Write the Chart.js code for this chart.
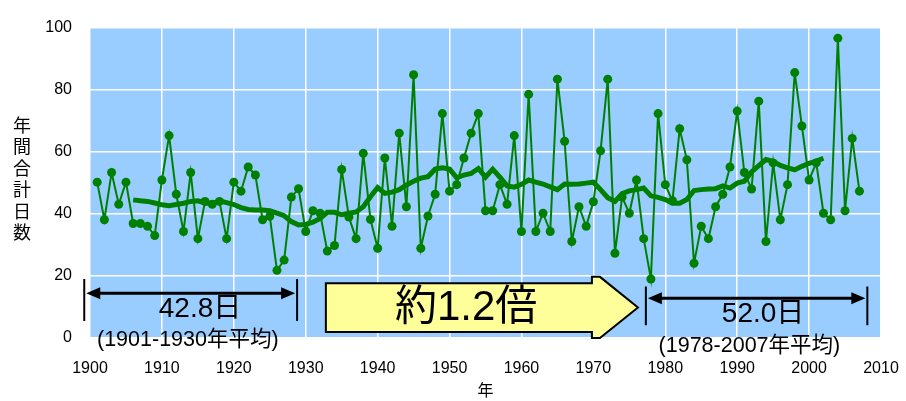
<!DOCTYPE html>
<html>
<head>
<meta charset="utf-8">
<script src="https://cdn.jsdelivr.net/npm/chart.js@4"></script>
<style>
  html, body { margin: 0; padding: 0; background: #fff; }
  #wrap { width: 906px; height: 401px; }
</style>
</head>
<body>
<div id="wrap"><canvas id="chart" width="906" height="401"></canvas></div>
<script>
// 年間合計日数 (1901-2007)
const firstYear = 1901;
const annualDays = [
  50.2, 38.1, 53.3, 43.1, 50.2, 36.9, 36.9, 36.0, 33.0, 50.9,
  65.2, 46.3, 34.3, 53.3, 32.0, 44.0, 43.1, 44.0, 32.0, 50.2,
  47.3, 55.1, 52.5, 38.1, 39.2, 21.8, 25.1, 45.4, 48.1, 34.3,
  41.0, 40.2, 28.0, 29.8, 54.3, 39.0, 32.0, 59.5, 38.2, 28.9,
  58.0, 36.0, 66.0, 42.3, 84.8, 28.9, 39.3, 46.3, 72.3, 47.3,
  49.4, 58.0, 66.0, 72.3, 41.0, 41.0, 49.4, 43.1, 65.2, 34.3,
  78.5, 34.3, 40.2, 34.3, 83.4, 63.4, 31.1, 42.3, 36.0, 43.9,
  60.3, 83.4, 27.3, 45.4, 40.2, 50.9, 32.0, 19.0, 72.3, 49.4,
  44.2, 67.4, 57.4, 24.1, 36.0, 32.0, 42.3, 46.3, 55.1, 73.1,
  53.3, 48.0, 76.3, 31.1, 56.4, 38.1, 49.4, 85.5, 68.3, 50.9,
  56.4, 40.2, 38.1, 96.6, 41.0, 64.3, 47.3
];

// 移動平均 (1906-2002)
const avgFirstYear = 1906;
const movingAvg = [
  44.5, 44.2, 44.0, 43.5, 42.9, 42.6, 43.0, 43.4, 44.0, 44.2,
  43.5, 43.3, 44.2, 43.6, 43.0, 42.0, 41.4, 41.2, 41.2, 41.0,
  40.2, 39.4, 37.5, 36.4, 36.6, 37.3, 38.5, 40.5, 40.5, 39.7,
  40.2, 40.6, 42.3, 45.5, 48.5, 46.6, 47.0, 47.8, 49.3, 50.5,
  51.5, 52.0, 54.4, 54.8, 54.4, 51.6, 52.5, 53.0, 54.6, 51.8,
  54.4, 51.8, 49.0, 48.6, 49.5, 50.9, 50.2, 49.6, 48.7, 47.8,
  49.6, 49.5, 49.6, 49.9, 50.2, 47.8, 45.2, 44.0, 46.5, 47.4,
  47.8, 48.3, 45.8, 45.3, 44.6, 43.4, 43.4, 44.6, 47.5, 47.8,
  48.0, 48.1, 49.0, 48.3, 49.9, 50.5, 53.5, 55.5, 57.5, 56.9,
  55.6, 54.8, 54.2, 55.3, 56.3, 57.0, 57.9
];

// 注記
const yTitleChars = ['年', '間', '合', '計', '日', '数'];
const leftLabel  = '42.8日';
const leftNote   = '(1901-1930年平均)';
const rightLabel = '52.0日';
const rightNote  = '(1978-2007年平均)';
const ratioLabel = '約1.2倍';

const FONT = '"Liberation Sans", "Noto Sans CJK JP", sans-serif';
const GREEN = '#008000';

const annualPts = annualDays.map((v, i) => ({ x: firstYear + i, y: v }));
const avgPts    = movingAvg.map((v, i) => ({ x: avgFirstYear + i, y: v }));

// プロット背景
const plotBg = {
  id: 'plotBg',
  beforeDraw(chart) {
    const { ctx, chartArea: a } = chart;
    ctx.save();
    ctx.fillStyle = '#99ccff';
    ctx.fillRect(a.left, a.top, a.right - a.left, a.bottom - a.top);
    ctx.restore();
  },
};

function arrowHead(ctx, tipX, y, dir) {
  ctx.beginPath();
  ctx.moveTo(tipX, y);
  ctx.lineTo(tipX + dir * 14, y - 6);
  ctx.lineTo(tipX + dir * 14, y + 6);
  ctx.closePath();
  ctx.fill();
}

function spanArrow(ctx, x0, x1, y, barTop, barBot) {
  ctx.lineWidth = 2;
  ctx.beginPath();
  ctx.moveTo(x0, barTop); ctx.lineTo(x0, barBot);
  ctx.moveTo(x1, barTop); ctx.lineTo(x1, barBot);
  ctx.stroke();
  ctx.lineWidth = 3;
  ctx.beginPath();
  ctx.moveTo(x0 + 10, y); ctx.lineTo(x1 - 10, y);
  ctx.stroke();
  arrowHead(ctx, x0 + 2, y, 1);
  arrowHead(ctx, x1 - 2, y, -1);
}

// 注記・矢印
const notes = {
  id: 'notes',
  afterDraw(chart) {
    const { ctx } = chart;
    const xs = chart.scales.x, ys = chart.scales.y;
    const px = v => xs.getPixelForValue(v);
    const py = v => ys.getPixelForValue(v);
    ctx.save();
    ctx.fillStyle = '#000';
    ctx.strokeStyle = '#000';

    // 縦書きの軸タイトル
    ctx.font = `18px ${FONT}`;
    ctx.textAlign = 'center';
    ctx.textBaseline = 'middle';
    yTitleChars.forEach((c, i) => ctx.fillText(c, 22, 127 + i * 21.5));

    // 左の期間
    spanArrow(ctx, px(1899.2), px(1928.8), py(14.4), py(19), py(5.5));
    ctx.font = `28px ${FONT}`;
    ctx.fillText(leftLabel, px(1915.3), py(9.3));
    ctx.font = `21.5px ${FONT}`;
    ctx.fillText(leftNote, px(1913.6), py(-0.6));

    // 右の期間
    spanArrow(ctx, px(1977.3), px(2008.1), py(12.8), py(16.6), py(4.1));
    ctx.font = `28px ${FONT}`;
    ctx.fillText(rightLabel, px(1993.6), py(7.8));
    ctx.font = `21.5px ${FONT}`;
    ctx.fillText(rightNote, px(1991.7), py(-2.6));

    // 黄色の矢印
    const bl = px(1932.8), br = px(1969.8), tip = px(1976.2);
    const bt = py(17.6), bb = py(1.9), ht = py(19.7), hb = py(0), my = py(9.8);
    ctx.beginPath();
    ctx.moveTo(bl, bt);
    ctx.lineTo(br, bt);
    ctx.lineTo(br, ht);
    ctx.lineTo(br + 8, ht);
    ctx.lineTo(tip, my);
    ctx.lineTo(br + 8, hb);
    ctx.lineTo(br, hb);
    ctx.lineTo(br, bb);
    ctx.lineTo(bl, bb);
    ctx.closePath();
    ctx.fillStyle = '#ffff99';
    ctx.fill();
    ctx.lineWidth = 2;
    ctx.stroke();
    ctx.fillStyle = '#000';
    ctx.font = `42px ${FONT}`;
    ctx.fillText(ratioLabel, px(1952.3), my + 1);

    ctx.restore();
  },
};

new Chart(document.getElementById('chart'), {
  type: 'line',
  data: {
    datasets: [
      {
        label: '移動平均',
        data: avgPts,
        borderColor: GREEN,
        borderWidth: 5,
        pointRadius: 0,
        tension: 0,
      },
      {
        label: '年間合計日数',
        data: annualPts,
        borderColor: GREEN,
        backgroundColor: GREEN,
        borderWidth: 2,
        pointRadius: 4.5,
        pointBorderWidth: 0,
        tension: 0,
      },
    ],
  },
  plugins: [plotBg, notes],
  options: {
    responsive: false,
    animation: false,
    layout: { padding: { top: 18, right: 25, left: 0, bottom: 0 } },
    plugins: {
      legend: { display: false },
      tooltip: { enabled: false },
    },
    scales: {
      x: {
        type: 'linear',
        min: 1900,
        max: 2010,
        border: { display: false },
        grid: { color: '#ffffff', lineWidth: 1.5, drawTicks: false },
        ticks: {
          stepSize: 10,
          padding: 21,
          color: '#000',
          font: { family: FONT, size: 16 },
          callback: v => String(v),
        },
        title: {
          display: true,
          text: '年',
          color: '#000',
          font: { family: FONT, size: 16 },
          padding: { top: 5, bottom: 0 },
        },
        afterFit: s => { s.height = 63; s.paddingLeft = 0; s.paddingRight = 0; },
      },
      y: {
        min: 0,
        max: 100,
        border: { display: false },
        grid: { color: '#ffffff', lineWidth: 1.5, drawTicks: false },
        ticks: {
          stepSize: 20,
          padding: 18,
          color: '#000',
          font: { family: FONT, size: 16 },
        },
        afterFit: s => { s.width = 90; },
      },
    },
  },
});
</script>
</body>
</html>
